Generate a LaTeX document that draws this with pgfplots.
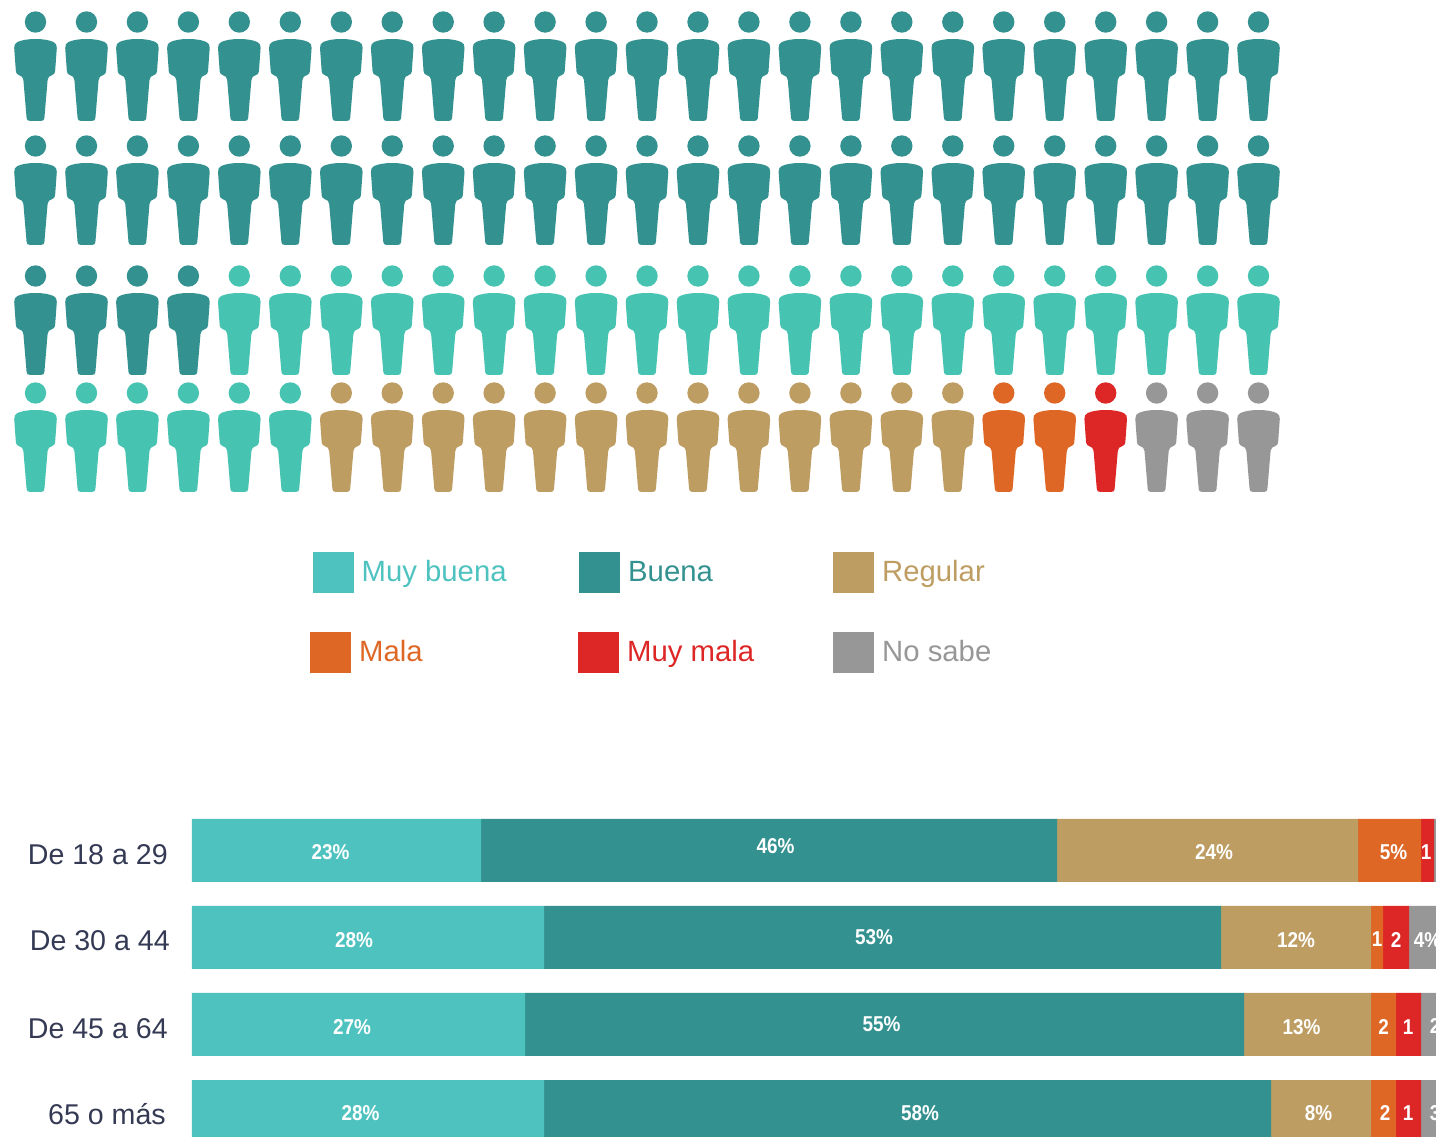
\documentclass[border=0pt]{standalone}
\usepackage{fontspec}
\usepackage{pgfplots}
\pgfplotsset{compat=1.18}
\setmainfont{Liberation Sans}
\newfontfamily\cnbold[FakeStretch=0.88]{Liberation Sans Bold}
\definecolor{cMB}{HTML}{46C3B1}
\definecolor{cMBbar}{HTML}{4DC2BF}
\definecolor{cB}{HTML}{339190}
\definecolor{cR}{HTML}{BE9D63}
\definecolor{cM}{HTML}{DE6726}
\definecolor{cMM}{HTML}{DD2626}
\definecolor{cNS}{HTML}{979797}
\definecolor{cT}{HTML}{353A54}
\newcommand\Pq[2]{\pgfqpoint{#1pt}{#2pt}}
\newcommand\Cv[6]{\pgfpathcurveto{\Pq{#1}{#2}}{\Pq{#3}{#4}}{\Pq{#5}{#6}}}
\pgfdeclareplotmark{person}{%
  \pgfpathcircle{\pgfpointorigin}{10.7pt}%
  \pgfpathmoveto{\Pq{0}{-17}}%
  \Cv{8}{-17}{14}{-18.2}{18}{-20}%
  \Cv{20.4}{-21}{21.3}{-23}{21.3}{-26}%
  \pgfpathlineto{\Pq{19.6}{-49.5}}%
  \Cv{19.4}{-51.5}{18.2}{-52.6}{16.2}{-53.3}%
  \Cv{14}{-54}{12.4}{-55}{12.1}{-58}%
  \pgfpathlineto{\Pq{8.9}{-96}}%
  \Cv{8.7}{-98.1}{7.7}{-98.8}{6}{-98.8}%
  \pgfpathlineto{\Pq{-6}{-98.8}}%
  \Cv{-7.7}{-98.8}{-8.7}{-98.1}{-8.9}{-96}%
  \pgfpathlineto{\Pq{-12.1}{-58}}%
  \Cv{-12.4}{-55}{-14}{-54}{-16.2}{-53.3}%
  \Cv{-18.2}{-52.6}{-19.4}{-51.5}{-19.6}{-49.5}%
  \pgfpathlineto{\Pq{-21.3}{-26}}%
  \Cv{-21.3}{-23}{-20.4}{-21}{-18}{-20}%
  \Cv{-14}{-18.2}{-8}{-17}{0}{-17}%
  \pgfpathclose
  \pgfusepathqfill
}
\pgfplotsset{
  people/.style={only marks, mark=person, mark options={draw=none, fill=#1}},
  swatch/.style={only marks, color=#1, mark=square*, mark size=20.2pt, mark options={draw=#1, fill=#1, line width=0.6pt, solid}},
  segm/.style={fill=#1, draw=none},
}
\begin{document}
\begin{tikzpicture}
\useasboundingbox (0,0) rectangle (1436pt,1137pt);
\clip (0,0) rectangle (1436pt,1137pt);
% ---------- bars
\begin{axis}[
  at={(192pt,0pt)}, anchor=south west,
  scale only axis, width=1244pt, height=347pt,
  xbar stacked, bar width=63pt,
  xmin=0, xmax=99.52,
  ymin=-0.695, ymax=3.293, y dir=reverse,
  xtick=\empty, ytick={0,1,2,3},
  yticklabels={\raisebox{-0.5pt}{De 18 a 29},\raisebox{0.5pt}{De 30 a 44}\kern-2pt,\raisebox{-0.5pt}{De 45 a 64},\raisebox{1.5pt}{65 o más}\kern2pt},
  yticklabel style={font=\fontsize{28.6}{30}\selectfont, text=cT, anchor=base east, yshift=-14pt, inner sep=0pt, xshift=-24pt},
  axis line style={draw=none}, tick style={draw=none},
]
\addplot[segm=cMBbar] coordinates {(23.12,0) (28.16,1) (26.64,2) (28.16,3)};
\addplot[segm=cB]     coordinates {(46.08,0) (54.16,1) (57.52,2) (58.16,3)};
\addplot[segm=cR]     coordinates {(24.08,0) (12.00,1) (10.16,2) (8.00,3)};
\addplot[segm=cM]     coordinates {(5.04,0) (0.96,1) (2.00,2) (2.00,3)};
\addplot[segm=cMM]    coordinates {(1.04,0) (2.08,1) (2.00,2) (2.00,3)};
\addplot[segm=cNS]    coordinates {(0.50,0) (4.00,1) (2.00,2) (3.00,3)};
\end{axis}
% ---------- pictogram, legend, value labels (pixel coordinates)
\begin{axis}[
  at={(0pt,0pt)}, anchor=south west,
  scale only axis, width=1436pt, height=1137pt,
  xmin=0, xmax=1436, ymin=0, ymax=1137, y dir=reverse,
  hide axis, clip=false,
]
\addplot[people=cB] coordinates {
(35.5,22)(86.5,22)(137.4,22)(188.4,22)(239.3,22)(290.3,22)(341.3,22)(392.2,22)(443.2,22)(494.1,22)(545.1,22)(596.1,22)(647.0,22)(698.0,22)(748.9,22)(799.9,22)(850.9,22)(901.8,22)(952.8,22)(1003.7,22)(1054.7,22)(1105.7,22)(1156.6,22)(1207.6,22)(1258.5,22)
(35.5,146)(86.5,146)(137.4,146)(188.4,146)(239.3,146)(290.3,146)(341.3,146)(392.2,146)(443.2,146)(494.1,146)(545.1,146)(596.1,146)(647.0,146)(698.0,146)(748.9,146)(799.9,146)(850.9,146)(901.8,146)(952.8,146)(1003.7,146)(1054.7,146)(1105.7,146)(1156.6,146)(1207.6,146)(1258.5,146)
(35.5,276)(86.5,276)(137.4,276)(188.4,276)};
\addplot[people=cMB] coordinates {
(239.3,276)(290.3,276)(341.3,276)(392.2,276)(443.2,276)(494.1,276)(545.1,276)(596.1,276)(647.0,276)(698.0,276)(748.9,276)(799.9,276)(850.9,276)(901.8,276)(952.8,276)(1003.7,276)(1054.7,276)(1105.7,276)(1156.6,276)(1207.6,276)(1258.5,276)
(35.5,393)(86.5,393)(137.4,393)(188.4,393)(239.3,393)(290.3,393)};
\addplot[people=cR] coordinates {
(341.3,393)(392.2,393)(443.2,393)(494.1,393)(545.1,393)(596.1,393)(647.0,393)(698.0,393)(748.9,393)(799.9,393)(850.9,393)(901.8,393)(952.8,393)};
\addplot[people=cM] coordinates {(1003.7,393)(1054.7,393)};
\addplot[people=cMM] coordinates {(1105.7,393)};
\addplot[people=cNS] coordinates {(1156.6,393)(1207.6,393)(1258.5,393)};
% legend swatches
\addplot[swatch=cMBbar] coordinates {(333.5,572.5)};
\addplot[swatch=cB] coordinates {(599.5,572.5)};
\addplot[swatch=cR] coordinates {(853.5,572.5)};
\addplot[swatch=cM] coordinates {(330.5,652.5)};
\addplot[swatch=cMM] coordinates {(598.5,652.5)};
\addplot[swatch=cNS] coordinates {(853.5,652.5)};
\begin{scope}[every node/.style={anchor=base west, inner sep=0pt, font=\fontsize{29.3}{31}\selectfont}]
\node[text=cMBbar] at (axis cs:361.5,581.5) {Muy buena};
\node[text=cB] at (axis cs:628,581.5) {Buena};
\node[text=cR] at (axis cs:882,581.5) {Regular};
\node[text=cM] at (axis cs:359,661.5) {Mala};
\node[text=cMM] at (axis cs:627,661.5) {Muy mala};
\node[text=cNS] at (axis cs:882,661.5) {No sabe};
\end{scope}
% value labels
\addplot[draw=none, mark=none, point meta=explicit symbolic,
  nodes near coords,
  every node near coord/.style={anchor=center, inner sep=0pt, text=white, font=\cnbold\fontsize{21.5}{22}\selectfont},
] coordinates {
(330.5,852)[23\%] (775.5,846)[46\%] (1214,852.5)[24\%] (1393.5,852)[5\%] (1426,852)[1]
(354,940)[28\%] (874,937)[53\%] (1296,940)[12\%] (1377,939)[1] (1396,940)[2] (1427.5,940)[4\%]
(352,1027)[27\%] (881.5,1024)[55\%] (1301.5,1027)[13\%] (1383.5,1027)[2] (1408,1027)[1] (1435,1026)[2]
(360.5,1113)[28\%] (920,1113)[58\%] (1318.5,1113)[8\%] (1385,1113)[2] (1408,1113)[1] (1435,1113)[3]
};
\end{axis}
\end{tikzpicture}
\end{document}
